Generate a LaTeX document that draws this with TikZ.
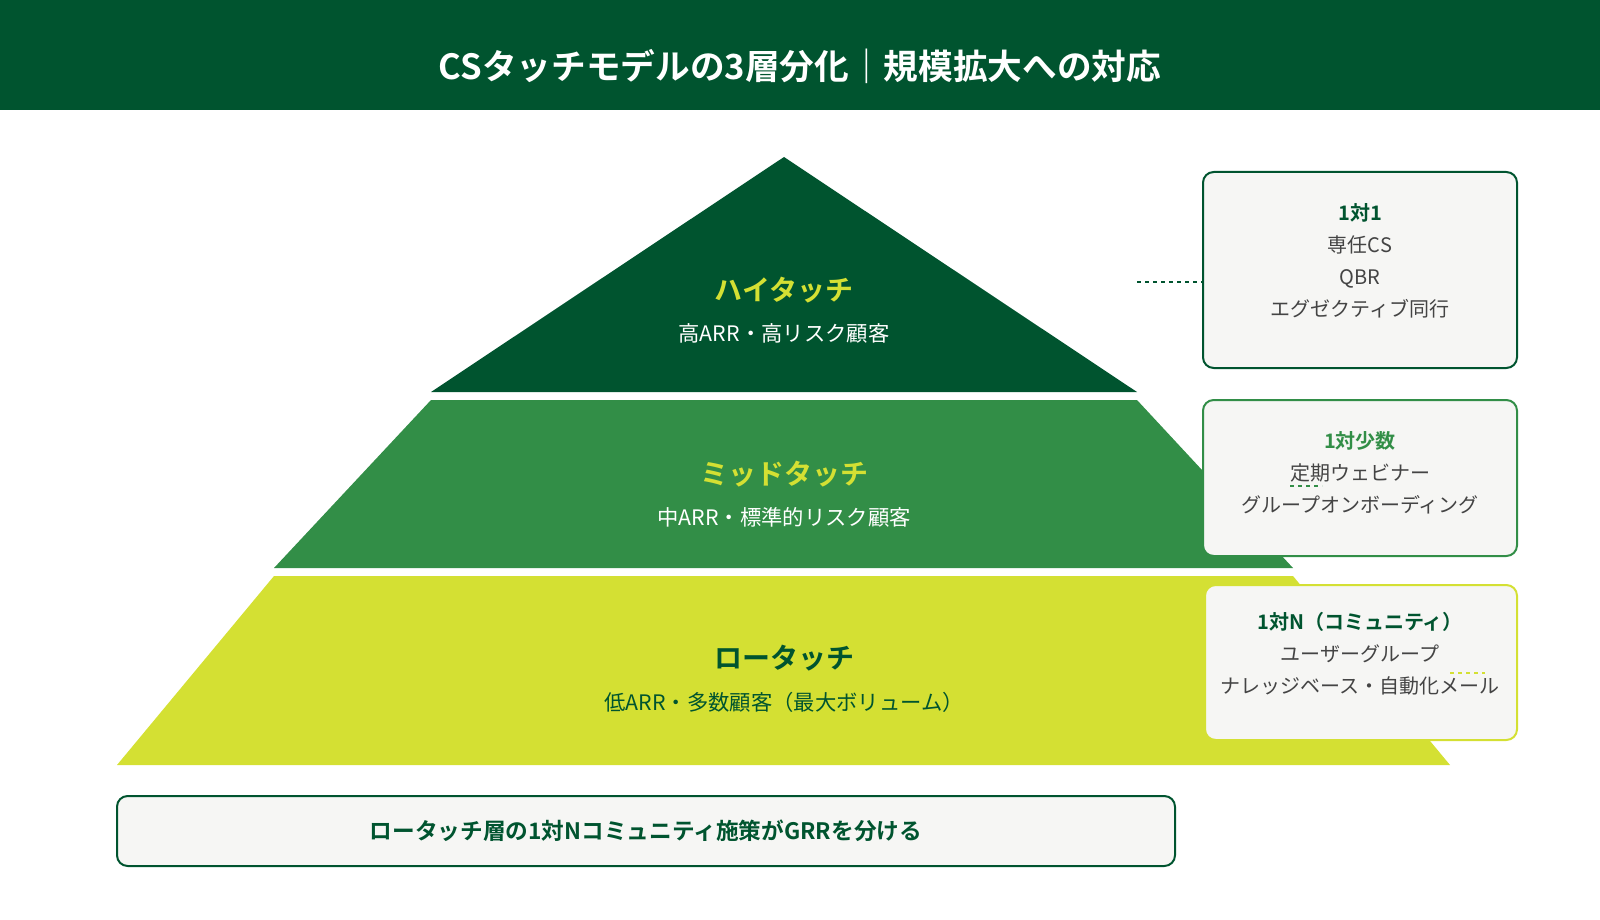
\documentclass[tikz,border=0pt]{standalone}
\usepackage{fontspec}
\setmainfont{Noto Sans CJK JP}
\newfontfamily\jpb{Noto Sans CJK JP Bold}
\definecolor{dg}{HTML}{00542F}
\definecolor{mg}{HTML}{328E47}
\definecolor{lm}{HTML}{D4E033}
\definecolor{bx}{HTML}{F6F6F4}
\definecolor{tx}{HTML}{444444}
\begin{document}
\begin{tikzpicture}[x=0.75pt,y=-0.75pt,
  sbox/.style={draw,line width=1.5pt,fill=bx,rounded corners=8pt},
  btxt/.style={align=center,font=\fontsize{15}{24}\selectfont,text=tx},
  conn/.style={dashed,line width=1pt}]
\useasboundingbox (0,0) rectangle (1600,920);
\fill[dg] (0,0) rectangle (1600,110);
\node (title) at (800,66) {\jpb\fontsize{26}{30}\selectfont\color{white}CSタッチモデルの3層分化｜規模拡大への対応};
% pyramid
\fill[dg] (784,157) -- (1137,392) -- (431,392) -- cycle;
\fill[mg] (431,400) -- (1137,400) -- (1293,568) -- (274,568) -- cycle;
\fill[lm] (274,576) -- (1293,576) -- (1450,765) -- (117,765) -- cycle;
\node (h1) at (784,290) {\jpb\fontsize{21}{24}\selectfont\color{lm}ハイタッチ};
\node (h2) at (784,333) {\fontsize{16}{18}\selectfont\color{white}高ARR・高リスク顧客};
\node (m1) at (784,474) {\jpb\fontsize{21}{24}\selectfont\color{lm}ミッドタッチ};
\node (m2) at (784,517) {\fontsize{16}{18}\selectfont\color{white}中ARR・標準的リスク顧客};
\node (l1) at (784,658) {\jpb\fontsize{21}{24}\selectfont\color{dg}ロータッチ};
\node (l2) at (784,702) {\fontsize{16}{18}\selectfont\color{dg}低ARR・多数顧客（最大ボリューム）};
% connectors
\coordinate (c1) at (1137,282);
\coordinate (b1w) at (1203,282);
\coordinate (c2) at (1290,486);
\coordinate (c2e) at (1322,486);
\coordinate (c3) at (1450,673);
\coordinate (c3e) at (1485,673);
% boxes
\draw[sbox,draw=dg] (1203,172) rectangle (1517,368);
\draw[sbox,draw=mg] (1203,400) rectangle (1517,556);
\draw[sbox,draw=lm] (1205,585) rectangle (1517,740);
\draw[conn,draw=dg] (c1) -- (b1w);
\draw[conn,draw=mg] (c2) -- (c2e);
\draw[conn,draw=lm] (c3) -- (c3e);
\node[btxt] (t1) at (1360,261) {{\jpb\color{dg}1対1}\\専任CS\\QBR\\エグゼクティブ同行};
\node[btxt] (t2) at (1360,473) {{\jpb\color{mg}1対少数}\\定期ウェビナー\\グループオンボーディング};
\node[btxt] (t3) at (1360,654) {{\jpb\color{dg}1対N（コミュニティ）}\\ユーザーグループ\\ナレッジベース・自動化メール};
% bottom
\draw[sbox,draw=dg] (117,796) rectangle (1175,866);
\node (foot) at (646,831) {\jpb\fontsize{17}{20}\selectfont\color{dg}ロータッチ層の1対Nコミュニティ施策がGRRを分ける};
\end{tikzpicture}
\end{document}
